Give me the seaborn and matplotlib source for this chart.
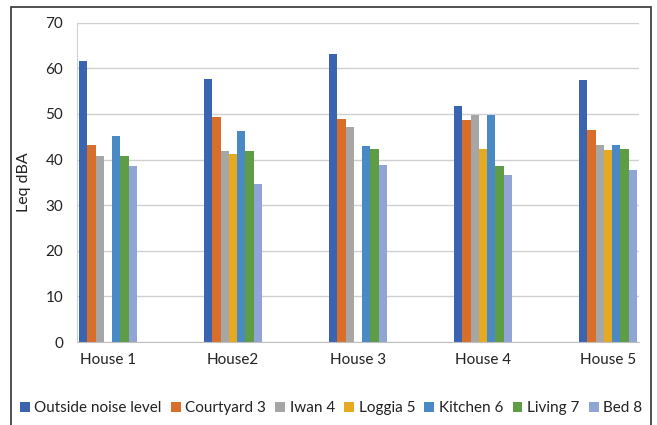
import pandas as pd
import numpy as np
import matplotlib
matplotlib.use("Agg")
import matplotlib.pyplot as plt
import seaborn as sns
from matplotlib.patches import Rectangle

# -------------- Data

houses = ["House 1", "House2", "House 3", "House 4", "House 5"]
rooms = ["Outside noise level", "Courtyard 3", "Iwan 4", "Loggia 5",
         "Kitchen 6", "Living 7", "Bed 8"]

outside = [61.7, 57.6, 63.2, 51.7, 57.4]
courtyard = [43.2, 49.4, 48.9, 48.6, 46.4]
iwan = [40.8, 41.9, 47.2, 49.7, 43.1]
loggia = [np.nan, 41.2, np.nan, 42.3, 42.0]
kitchen = [45.1, 46.3, 42.9, 49.7, 43.1]
living = [40.8, 41.9, 42.4, 38.5, 42.3]
bed = [38.5, 34.6, 38.8, 36.7, 37.7]

colors = ["#3A64B0", "#D86E2A", "#A6A6A6", "#E6AA22", "#4A8AC4", "#5E9C45", "#91A4D6"]

series = [outside, courtyard, iwan, loggia, kitchen, living, bed]
rows = []
for room, vals in zip(rooms, series):
    for house, v in zip(houses, vals):
        rows.append({"House": house, "Room": room, "Leq": v})
df = pd.DataFrame(rows).dropna()

# -------------- Plot

sns.set_style("white")
plt.rcParams["font.family"] = ["Lato", "DejaVu Sans"]

fig = plt.figure(figsize=(6.57, 4.25), dpi=100)
ax = fig.add_axes([77 / 657, 1 - 342 / 425, 562 / 657, (342 - 22.7) / 425])

sns.barplot(data=df, x="House", y="Leq", hue="Room", order=houses,
            hue_order=rooms, palette=colors, width=0.464, saturation=1,
            errorbar=None, ax=ax, linewidth=0)

ax.set_xlim(-0.248, 4.248)
ax.set_ylim(0, 70)
ax.set_yticks(range(0, 71, 10))
ax.yaxis.grid(True, color="#D0D0D0", linewidth=1)
ax.set_axisbelow(True)
for s in ["top", "right"]:
    ax.spines[s].set_visible(False)
ax.spines["left"].set_color("#D0D0D0")
ax.spines["bottom"].set_color("#BFBFBF")
ax.tick_params(axis="both", length=0, labelsize=11, colors="#222222", pad=8)
ax.tick_params(axis="y", pad=10)
ax.set_xlabel("")
ax.set_ylabel("Leq dBA", fontsize=11.5, color="#222222", labelpad=10)

handles, labels = ax.get_legend_handles_labels()
ax.get_legend().remove()
fig.legend(handles, labels, loc="center", bbox_to_anchor=(331 / 657, 1 - 408 / 425),
           ncol=7, frameon=False, fontsize=11, handlelength=0.65,
           handleheight=0.65, handletextpad=0.3, columnspacing=0.6,
           borderaxespad=0, labelcolor="#222222")

fig.patches.append(Rectangle((11 / 657, -0.02), 640 / 657, 1.02 - 7 / 425,
                             transform=fig.transFigure, fill=False,
                             edgecolor="#333333", linewidth=1.2))

fig.savefig("out.png", dpi=100)
